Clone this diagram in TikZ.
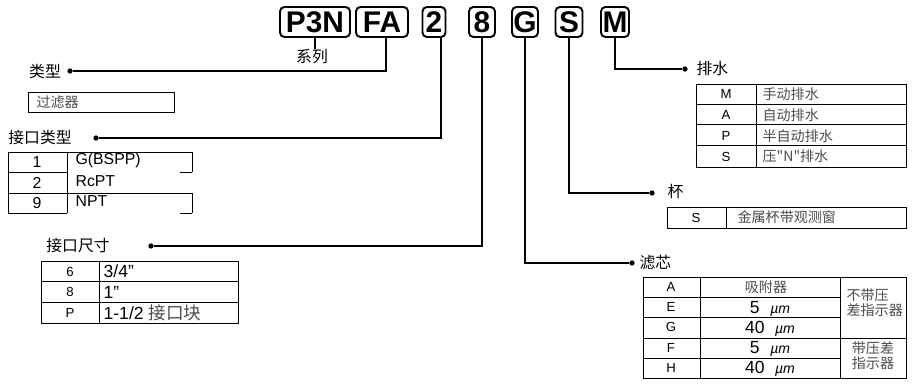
\documentclass[tikz,border=0pt]{standalone}
\usepackage{fontspec}
\setmainfont{Liberation Sans}
\newfontfamily\cjk{Noto Sans CJK SC}
\usetikzlibrary{positioning}

\newcommand\fsz[1]{\fontsize{#1}{#1}\selectfont}

\tikzset{
  codebox/.style={draw,line width=1.1pt,rounded corners=2.5pt,inner sep=0pt,minimum height=0.6cm,font=\fsz{17pt}\bfseries},
  lbl/.style={inner sep=0pt,font=\cjk\fsz{9pt}},
  dot/.style={circle,fill,inner sep=0pt,minimum size=3pt},
  key/.style={inner sep=0pt,font=\fsz{7.5pt}},
  val/.style={inner sep=0pt,anchor=west,font=\cjk\fsz{8pt},text=black!70},
  lat/.style={inner sep=0pt,anchor=west,font=\fsz{9pt}},
  tabline/.style={line width=0.5pt}
}

\begin{document}
\begin{tikzpicture}[x=0.02cm,y=-0.02cm,line width=0.7pt]
  \useasboundingbox (0,0) rectangle (912,383);
  % --- code boxes
  \foreach \c/\x/\w in {P3N/315/1.40,FA/382/1.04,2/434/0.46,8/482/0.52,G/525/0.52,S/569/0.54,M/615/0.56}
    \node[codebox,minimum width=\w cm] (b\c) at (\x,22) {\c};
  \node[lbl] (lSeries) at (312,57) {系列};
  \draw (bP3N.south) -- (bP3N.south |- lSeries.north);
  % --- type
  \node[lbl] (lType) at (45,71) {类型};
  \node[dot] (dType) at (70,71) {};
  \draw ([xshift=0.08cm]bFA.south) |- (dType);
  \draw[tabline] (28,92) rectangle (174,112);
  \node[val] (vFilter) at (36,102) {过滤器};
  % --- port type
  \node[lbl] (lPort) at (40,138) {接口类型};
  \node[dot] (dPort) at (96,138) {};
  \draw ([xshift=0.14cm]b2.south) |- (dPort);
  \draw[tabline] (8,213) -- (8,152) -- (192,152) -- (192,172) (192,193) -- (192,213)
    (67,152) -- (67,213) (8,172) -- (67,172) (180,172) -- (192,172)
    (8,193) -- (192,193) (8,213) -- (67,213) (180,213) -- (192,213);
  \foreach \k/\v [count=\i] in {1/G(BSPP),2/RcPT,9/NPT} {
    \node[key,font=\fsz{9pt}] (kP\i) at (37,{141.5+20.5*\i}) {\k};
    \node[lat] (vP\i) at (75,{140+20.5*\i}) {\v};
  }
  % --- port size
  \node[lbl] (lSize) at (78,246) {接口尺寸};
  \node[dot] (dSize) at (151,246) {};
  \draw (b8.south) |- (dSize);
  \draw[tabline] (41,261) rectangle (238,323) (99,261) -- (99,323) (41,281.5) -- (238,281.5) (41,302) -- (238,302);
  \foreach \k/\v [count=\i] in {6/{3/4”},8/{1”},P/{1-1/2 {\cjk\color{black!70}接口块}}} {
    \node[key] (kS\i) at (70,{251+20.7*\i}) {\k};
    \node[lat,font=\fsz{10pt}] (vS\i) at (103,{251+20.7*\i}) {\v};
  }
  % --- element
  \node[dot] (dElem) at (632,263) {};
  \node[lbl,anchor=west] (lElem) at (639,263) {滤芯};
  \draw (bG.south) |- (dElem);
  \draw[tabline] (643,277) rectangle (906,378) (700,277) -- (700,378) (840,277) -- (840,378) (643,338) -- (906,338);
  \foreach \y in {297,317,358} \draw[tabline] (643,\y) -- (840,\y);
  \node[key] (kE0) at (671,287) {A};
  \node[val,anchor=center] (vE0) at (766,287) {吸附器};
  \foreach \k/\v [count=\i] in {E/5,G/40,F/5,H/40} {
    \node[key] (kE\i) at (671,{287+20.2*\i}) {\k};
    \node[inner sep=0pt,font=\fsz{10pt}] (vE\i) at (770,{288.5+20.2*\i}) {\v\hspace{0.6em}{\itshape\fsz{8pt}µm}};
  }
  \node[val,anchor=west,align=left,font=\cjk\fontsize{8pt}{8.6pt}\selectfont] (gNo) at (846,303) {不带压\\差指示器};
  \node[val,anchor=center,align=center,font=\cjk\fontsize{8pt}{8.6pt}\selectfont] (gYes) at (873,356) {带压差\\指示器};
  % --- bowl
  \node[dot] (dBowl) at (652,193) {};
  \node[lbl,anchor=west] (lBowl) at (667,191) {杯};
  \draw (bS.south) |- (dBowl);
  \draw[tabline] (667,207) rectangle (906,228) (726,207) -- (726,228);
  \node[key] (kB1) at (696,217.5) {S};
  \node[val] (vB1) at (737,217.5) {金属杯带观测窗};
  % --- drain
  \node[dot] (dDrain) at (685,69) {};
  \node[lbl,anchor=west] (lDrain) at (696,68) {排水};
  \draw (bM.south) |- (dDrain);
  \draw[tabline] (696,84) rectangle (906,167) (756,84) -- (756,167);
  \foreach \y in {104.5,124.5,145} \draw[tabline] (696,\y) -- (906,\y);
  \foreach \k/\v [count=\i] in {M/手动排水,A/自动排水,P/半自动排水,S/压"N"排水} {
    \node[key] (kD\i) at (726,{73.5+20.75*\i}) {\k};
    \node[val] (vD\i) at (762,{73.5+20.75*\i}) {\v};
  }
\end{tikzpicture}
\end{document}
